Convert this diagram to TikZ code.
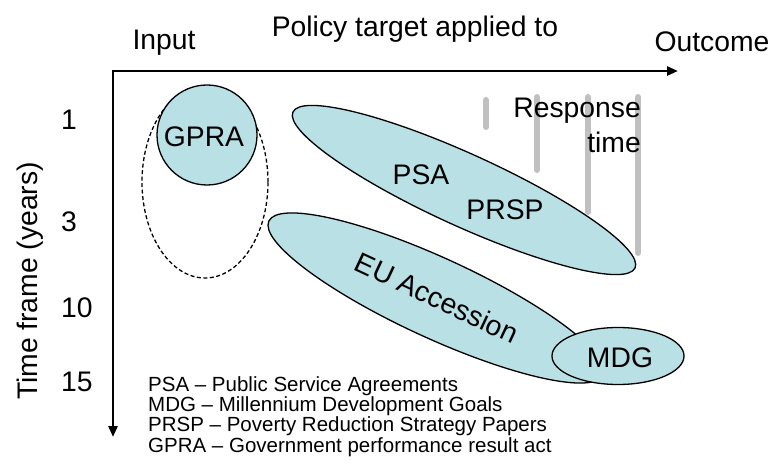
\documentclass[tikz,border=0pt]{standalone}
\usepackage{fontspec}
\setmainfont{Liberation Sans}
\usetikzlibrary{arrows.meta,shapes.geometric}
\definecolor{blobfill}{RGB}{185,224,228}
\definecolor{bargray}{RGB}{192,192,192}
\begin{document}
\begin{tikzpicture}[x=1pt,y=-1pt,
  lbl/.style={font=\fontsize{28.3}{34}\selectfont, inner sep=0pt},
  legend/.style={font=\fontsize{20.5}{18.5}\selectfont, inner sep=0pt, align=left},
  blob/.style={draw=black, fill=blobfill, line width=1.3pt, ellipse, inner sep=0pt},
  axisline/.style={line width=2.6pt, {Triangle[length=11pt,width=9pt]}-{Triangle[length=11pt,width=9pt]}},
  rbar/.style={draw=bargray, line width=6pt, line cap=round}]
\useasboundingbox (0,0) rectangle (774,473);
% axes
\coordinate (O) at (113,71);
\coordinate (xe) at (678,71);
\coordinate (ye) at (113,437);
\draw[axisline] (xe) -- (O) -- (ye);
% axis labels
\node[lbl, anchor=base] (input) at (164,50) {Input};
\node[lbl, anchor=base] (policy) at (415,37) {Policy target applied to};
\node[lbl, anchor=base] (outcome) at (712,52) {Outcome};
\node[lbl, rotate=90, anchor=base] (ylab) at (37,281) {Time frame (years)};
\node[lbl, anchor=base west] (n1) at (61,130) {1};
\node[lbl, anchor=base west] (n3) at (61,232) {3};
\node[lbl, anchor=base west] (n10) at (61,317) {10};
\node[lbl, anchor=base west] (n15) at (61,391) {15};
% dashed ellipse and GPRA
\node[draw=black, ellipse, line width=1.3pt, dash pattern=on 4pt off 2.5pt, minimum width=126, minimum height=192, inner sep=0pt] (dash) at (205,182) {};
\node[blob, circle, minimum size=100] (gpra) at (207,135) {};
% PSA/PRSP, EU, MDG blobs
\node[blob, minimum width=376, minimum height=72, rotate=-24.5] (psa) at (464,190) {};
\node[blob, minimum width=368, minimum height=80, rotate=-24.7] (eu) at (436,298) {};
\node[blob, minimum width=132, minimum height=57] (mdg) at (618,356) {};
% response bars
\coordinate (b1t) at (486,100); \coordinate (b1b) at (486,127);
\coordinate (b2t) at (537,97);  \coordinate (b2b) at (537,170);
\coordinate (b3t) at (588,97);  \coordinate (b3b) at (588,212);
\coordinate (b4t) at (638,97);  \coordinate (b4b) at (638,253);
\draw[rbar] (b1t) -- (b1b);
\draw[rbar] (b2t) -- (b2b);
\draw[rbar] (b3t) -- (b3b);
\draw[rbar] (b4t) -- (b4b);
% labels
\node[lbl, anchor=base] (gpraT) at (204,147) {GPRA};
\node[lbl, anchor=base] (psaT) at (421,185) {PSA};
\node[lbl, anchor=base] (prspT) at (505,220) {PRSP};
\node[lbl, rotate=-25] (euT) at (437,298) {EU Accession};
\node[lbl, anchor=base] (mdgT) at (620,367) {MDG};
\node[lbl, anchor=base east] (resp) at (641,118) {Response};
\node[lbl, anchor=base east] (time) at (641,153) {time};
% legend
\node[legend, anchor=base west] (leg) at (148,452) {PSA -- Public Service Agreements\\MDG -- Millennium Development Goals\\PRSP -- Poverty Reduction Strategy Papers\\GPRA -- Government performance result act};
\end{tikzpicture}
\end{document}
